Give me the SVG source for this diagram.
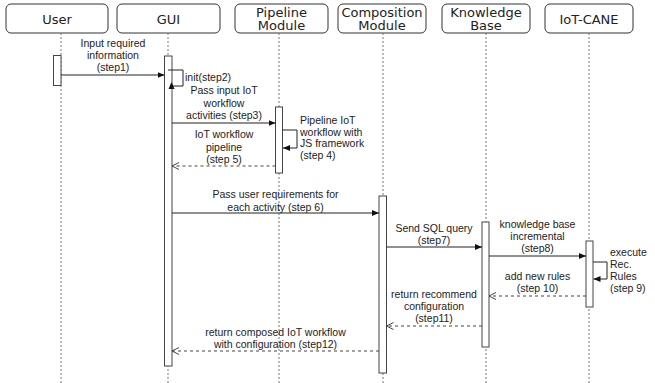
<svg xmlns="http://www.w3.org/2000/svg" width="655" height="383" viewBox="0 0 655 383">
<style>
.hdr{fill:#fff;stroke:#333;stroke-width:1}
.ht{font-family:"DejaVu Sans",sans-serif;font-size:13px;fill:#222;text-anchor:middle}
.life{stroke:#777;stroke-width:1;stroke-dasharray:2 2;fill:none}
.bar{fill:#fff;stroke:#444;stroke-width:1}
.msg{stroke:#222;stroke-width:1;fill:none}
.ret{stroke:#444;stroke-width:1;fill:none;stroke-dasharray:3 3}
.lt{font-family:"Liberation Sans",Arial,sans-serif;font-size:10.5px;fill:#222;text-anchor:middle}
.ll{font-family:"Liberation Sans",Arial,sans-serif;font-size:10.5px;fill:#222;text-anchor:start}
</style>
<defs>
<marker id="blk" markerUnits="userSpaceOnUse" markerWidth="8" markerHeight="8" refX="7" refY="4" orient="auto">
<path d="M0,1 L7,4 L0,7 Z" fill="#111"/>
</marker>
<marker id="opn" markerUnits="userSpaceOnUse" markerWidth="10" markerHeight="10" refX="8" refY="5" orient="auto">
<path d="M1,1.5 L8,5 L1,8.5" fill="none" stroke="#444" stroke-width="1"/>
</marker>
</defs>
<g id="user"><rect class="hdr" x="6" y="4" width="102" height="29" rx="5"/><text class="ht" x="57" y="23.5">User</text></g>
<g id="gui"><rect class="hdr" x="117" y="4" width="103" height="29" rx="5"/><text class="ht" x="168.5" y="23.5">GUI</text></g>
<g id="pipeline"><rect class="hdr" x="235" y="4" width="93" height="29" rx="5"/><text class="ht" x="281.5" y="16.5">Pipeline</text><text class="ht" x="281.5" y="30">Module</text></g>
<g id="composition"><rect class="hdr" x="338" y="4" width="88" height="29" rx="5"/><text class="ht" x="382" y="16.5">Composition</text><text class="ht" x="382" y="30">Module</text></g>
<g id="knowledge"><rect class="hdr" x="442" y="4" width="88" height="29" rx="5"/><text class="ht" x="486" y="16.5">Knowledge</text><text class="ht" x="486" y="30">Base</text></g>
<g id="iotcane"><rect class="hdr" x="545" y="4" width="88" height="29" rx="5"/><text class="ht" x="589" y="23.5">IoT-CANE</text></g>
<g id="lifelines">
<line class="life" x1="61" y1="33" x2="61" y2="383"/>
<line class="life" x1="168" y1="33" x2="168" y2="383"/>
<line class="life" x1="279" y1="33" x2="279" y2="383"/>
<line class="life" x1="383" y1="33" x2="383" y2="383"/>
<line class="life" x1="486" y1="33" x2="486" y2="383"/>
<line class="life" x1="589" y1="33" x2="589" y2="383"/>
</g>
<g id="activations">
<rect class="bar" x="53.5" y="55.5" width="7.5" height="30"/>
<rect class="bar" x="164.5" y="56" width="7.5" height="310"/>
<rect class="bar" x="275.5" y="107" width="7" height="66"/>
<rect class="bar" x="379" y="196" width="7.5" height="177"/>
<rect class="bar" x="482" y="222" width="7" height="125"/>
<rect class="bar" x="586" y="241" width="7" height="66"/>
</g>
<g id="connectors">
<line class="msg" x1="61" y1="75" x2="164.5" y2="75" marker-end="url(#blk)"/>
<path class="msg" d="M168,70 H183 V86 H172"/>
<path d="M168.5,89 L171.5,82 L174.5,89 Z" fill="#111"/>
<line class="msg" x1="172" y1="123" x2="275.5" y2="123" marker-end="url(#blk)"/>
<path class="msg" d="M282.5,130 H297 V148 H283" marker-end="url(#blk)"/>
<line class="ret" x1="275.5" y1="166" x2="172" y2="166" marker-end="url(#opn)"/>
<line class="msg" x1="172" y1="213" x2="379" y2="213" marker-end="url(#blk)"/>
<line class="msg" x1="386.5" y1="247" x2="482" y2="247" marker-end="url(#blk)"/>
<line class="msg" x1="489" y1="256" x2="586" y2="256" marker-end="url(#blk)"/>
<path class="msg" d="M593,262 H607 V279 H593.5" marker-end="url(#blk)"/>
<line class="ret" x1="586" y1="296" x2="489" y2="296" marker-end="url(#opn)"/>
<line class="ret" x1="482" y1="326" x2="386.5" y2="326" marker-end="url(#opn)"/>
<line class="ret" x1="379" y1="351" x2="172" y2="351" marker-end="url(#opn)"/>
</g>
<g id="labels">
<text class="lt" x="113" y="47">Input required</text>
<text class="lt" x="113" y="58.5">information</text>
<text class="lt" x="113" y="70.5">(step1)</text>
<text class="ll" x="185" y="81">init(step2)</text>
<text class="lt" x="224" y="94">Pass input IoT</text>
<text class="lt" x="224" y="106.5">workflow</text>
<text class="lt" x="224" y="118.5">activities (step3)</text>
<text class="ll" x="300" y="124">Pipeline IoT</text>
<text class="ll" x="300" y="135.5">workflow with</text>
<text class="ll" x="300" y="147">JS framework</text>
<text class="ll" x="300" y="158.5">(step 4)</text>
<text class="lt" x="224" y="138">IoT workflow</text>
<text class="lt" x="224" y="150.5">pipeline</text>
<text class="lt" x="224" y="162.5">(step 5)</text>
<text class="lt" x="275.5" y="198">Pass user requirements for</text>
<text class="lt" x="275.5" y="210.5">each activity (step 6)</text>
<text class="lt" x="434" y="232">Send SQL query</text>
<text class="lt" x="434" y="244">(step7)</text>
<text class="lt" x="537.5" y="228">knowledge base</text>
<text class="lt" x="537.5" y="240">incremental</text>
<text class="lt" x="537.5" y="252">(step8)</text>
<text class="ll" x="610" y="256">execute</text>
<text class="ll" x="610" y="268">Rec.</text>
<text class="ll" x="610" y="280">Rules</text>
<text class="ll" x="610" y="292">(step 9)</text>
<text class="lt" x="537.5" y="280">add new rules</text>
<text class="lt" x="537.5" y="291.5">(step 10)</text>
<text class="lt" x="434" y="298">return recommend</text>
<text class="lt" x="434" y="310">configuration</text>
<text class="lt" x="434" y="321.5">(step11)</text>
<text class="lt" x="275.5" y="336">return composed IoT workflow</text>
<text class="lt" x="275.5" y="347.5">with configuration (step12)</text>
</g>
</svg>
